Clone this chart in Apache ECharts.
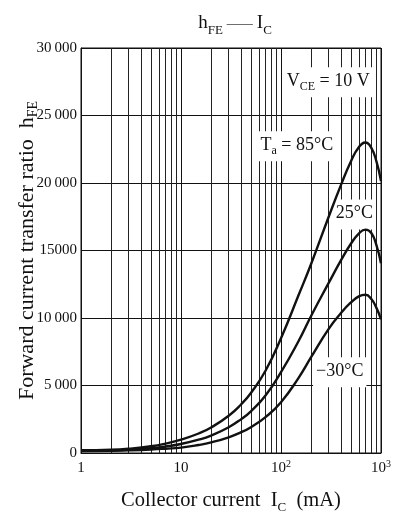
<!DOCTYPE html>
<html><head><meta charset="utf-8">
<script src="https://cdn.jsdelivr.net/npm/echarts@6/dist/echarts.min.js"></script>
<style>html,body{margin:0;padding:0;background:#fff}#c{width:402px;height:519px}</style>
</head><body><div id="c"></div>
<script>
// Collector current (mA)
const currentMA = [1,2,3,5,7,10,15,20,30,40,50,70,100,150,200,300,400,500,600,700,800,900,1000];
// hFE at Ta = 85 °C, 25 °C, -30 °C
const hfe85  = [200,240,320,500,700,990,1445,1890,2760,3610,4450,6090,8500,11700,14000,17500,19900,21600,22650,23000,22600,21600,20150];
const hfe25  = [160,190,240,350,480,670,985,1295,1910,2510,3090,4260,5990,8300,10150,12600,14300,15500,16250,16550,16300,15400,14050];
const hfeM30 = [150,170,200,260,320,400,594,785,1165,1540,1915,2655,3760,5570,7100,9200,10390,11150,11600,11720,11400,10750,9900];
// minor vertical grid lines (log decades)
const minorGridX = [2,3,4,5,6,7,8,9,20,30,40,50,60,70,80,90,200,300,400,500,600,700,800,900];
const yTickLabels = {0:'0',5000:'5\u2009000',10000:'10\u2009000',15000:'15000',20000:'20\u2009000',25000:'25\u2009000',30000:'30\u2009000'};
const xTickLabels = {1:'1',10:'10',100:'10{sup|2}',1000:'10{sup|3}'};
// annotations: [text, x(mA), y(hFE)]
const notes = [
  ['V{sub|CE} = 10 V', 297, 27470],
  ['T{sub|a} = 85°C', 144, 22720],
  ['25°C', 541, 17670],
  ['\u221230°C', 387, 5990]
];

const FONT = 'Liberation Serif';
const chart = echarts.init(document.getElementById('c'));
const line = (d) => ({
  type:'line', data: currentMA.map((x,i)=>[x,d[i]]), smooth:true, showSymbol:false,
  lineStyle:{color:'#111', width:2.4}, z:5, silent:true
});
chart.setOption({
  animation:false,
  backgroundColor:'#fff',
  title:{
    text:'h{sub|FE}{dash|——}I{sub|C}', left:230, top:5, textAlign:'center',
    textStyle:{fontFamily:FONT, fontSize:19, color:'#111', fontWeight:'normal', lineHeight:27,
      rich:{sub:{fontFamily:FONT,fontSize:13,lineHeight:13,verticalAlign:'bottom',color:'#111'},
            dash:{fontFamily:FONT,fontSize:13,lineHeight:27,color:'#111',padding:[0,4,0,4]}}}
  },
  grid:{left:81, right:21, top:48, bottom:66, show:true, borderColor:'#111', borderWidth:1,
        containLabel:false, outerBoundsMode:'none'},
  xAxis:{
    type:'log', logBase:10, min:1, max:1000,
    name:'Collector current  I{sub|C}  (mA)', nameLocation:'middle', nameGap:35, nameMoveOverlap:false,
    nameTextStyle:{fontFamily:FONT, fontSize:20.5, color:'#111', lineHeight:26,
      rich:{sub:{fontFamily:FONT,fontSize:13,lineHeight:13,verticalAlign:'bottom',color:'#111'}}},
    axisLine:{show:true, lineStyle:{color:'#111', width:1}},
    axisTick:{show:false},
    splitLine:{show:true, lineStyle:{color:'#111', width:1}},
    axisLabel:{fontFamily:FONT, fontSize:15, color:'#111', margin:6, lineHeight:18,
      formatter:(v)=>xTickLabels[Math.round(v)] ?? '',
      rich:{sup:{fontFamily:FONT,fontSize:10,lineHeight:10,verticalAlign:'top',color:'#111'}}}
  },
  yAxis:{
    type:'value', min:0, max:30000, interval:5000,
    name:'Forward current transfer ratio  h{sub|FE}', nameLocation:'middle', nameGap:41, nameMoveOverlap:false,
    nameTextStyle:{fontFamily:FONT, fontSize:22, color:'#111', lineHeight:26,
      rich:{sub:{fontFamily:FONT,fontSize:14,lineHeight:14,verticalAlign:'bottom',color:'#111'}}},
    axisLine:{show:true, lineStyle:{color:'#111', width:1}},
    axisTick:{show:false},
    splitLine:{show:true, lineStyle:{color:'#111', width:1.2}},
    axisLabel:{fontFamily:FONT, fontSize:15, color:'#111', margin:4,
      formatter:(v)=>yTickLabels[v] ?? ''}
  },
  series:[
    { type:'line', data:[], z:1, silent:true,
      markLine:{silent:true, symbol:'none', label:{show:false}, animation:false,
        lineStyle:{color:'#222', width:1, type:'solid'},
        data: minorGridX.map(v=>({xAxis:v}))} },
    line(hfe85), line(hfe25), line(hfeM30),
    { type:'scatter', data:[], z:10, silent:true,
      markPoint:{ symbol:'rect', symbolSize:0, silent:true, animation:false,
        data: notes.map(n=>({coord:[n[1],n[2]], value:n[0]})),
        label:{show:true, position:'inside', formatter:(p)=>p.value,
          fontFamily:FONT, fontSize:18, color:'#111', backgroundColor:'#fff', lineHeight:24,
          padding:[2,3,4,3],
          rich:{sub:{fontFamily:FONT,fontSize:12,lineHeight:12,verticalAlign:'bottom',color:'#111'}}} } }
  ]
});
</script></body></html>
